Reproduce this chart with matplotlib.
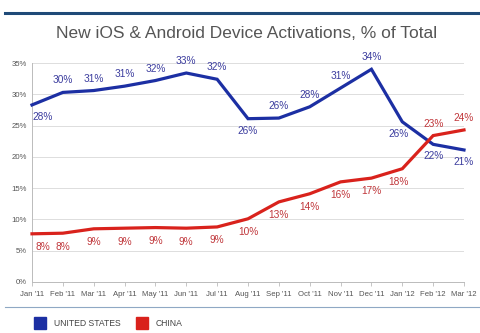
import matplotlib
matplotlib.use("Agg")
import matplotlib.pyplot as plt
from matplotlib.patches import Rectangle
from matplotlib.lines import Line2D

months = ["Jan '11", "Feb '11", "Mar '11", "Apr '11", "May '11", "Jun '11", "Jul '11",
          "Aug '11", "Sep '11", "Oct '11", "Nov '11", "Dec '11", "Jan '12", "Feb '12", "Mar '12"]
us = [28.3, 30.3, 30.6, 31.3, 32.2, 33.4, 32.4, 26.1, 26.2, 28.0, 31.0, 34.0, 25.6, 22.0, 21.1]
china = [7.7, 7.8, 8.5, 8.6, 8.7, 8.6, 8.8, 10.1, 12.8, 14.1, 16.0, 16.6, 18.1, 23.4, 24.3]
us_labels = ["28%", "30%", "31%", "31%", "32%", "33%", "32%", "26%", "26%", "28%",
             "31%", "34%", "26%", "22%", "21%"]
china_labels = ["8%", "8%", "9%", "9%", "9%", "9%", "9%", "10%", "13%", "14%",
                "16%", "17%", "18%", "23%", "24%"]
# label placement: +1 above the line, -1 below
us_side = [-1, 1, 1, 1, 1, 1, 1, -1, 1, 1, 1, 1, -1, -1, -1]
china_side = [-1, -1, -1, -1, -1, -1, -1, -1, -1, -1, -1, -1, -1, 1, 1]

blue = "#1c2fa3"
blue_txt = "#3b3c9e"
red = "#d9221c"
red_txt = "#c0363a"

plt.rcParams['font.family'] = ['Liberation Sans', 'DejaVu Sans']

fig = plt.figure(figsize=(4.8, 3.33), dpi=100)
ax = fig.add_axes([32 / 480, 1 - 282 / 333, 432 / 480, 219 / 333])

x = list(range(len(months)))
ax.plot(x, us, color=blue, lw=2.3, solid_joinstyle="miter", zorder=3)
ax.plot(x, china, color=red, lw=2.3, solid_joinstyle="miter", zorder=3)

for i in x:
    dx = 0
    if i == 0:
        dx = 0.25
    if i == 12:
        dx = -0.1
    if us_side[i] > 0:
        ax.annotate(us_labels[i], (i, us[i]), xytext=(dx * 30, 5), textcoords="offset points",
                    ha="center", va="bottom", fontsize=7.3, color=blue_txt)
    else:
        ax.annotate(us_labels[i], (i, us[i]), xytext=(dx * 30, -5), textcoords="offset points",
                    ha="center", va="top", fontsize=7.3, color=blue_txt)
    if china_side[i] > 0:
        ax.annotate(china_labels[i], (i, china[i]), xytext=(0, 5), textcoords="offset points",
                    ha="center", va="bottom", fontsize=7.3, color=red_txt)
    else:
        ax.annotate(china_labels[i], (i, china[i]), xytext=(dx * 30, -6), textcoords="offset points",
                    ha="center", va="top", fontsize=7.3, color=red_txt)

ax.set_xlim(0, len(months) - 1)
ax.set_ylim(0, 35)
ax.set_yticks(range(0, 36, 5))
ax.set_yticklabels([str(v) + "%" for v in range(0, 36, 5)])
ax.set_xticks(x)
ax.set_xticklabels(months)
ax.tick_params(axis="both", labelsize=5.6, colors="#555555", length=3, width=0.6)
ax.tick_params(axis="y", length=0)
ax.tick_params(axis="x", color="#bbbbbb")
ax.grid(axis="y", color="#dddddd", lw=0.7)
ax.set_axisbelow(True)
for s in ["top", "right"]:
    ax.spines[s].set_visible(False)
ax.spines["left"].set_color("#bbbbbb")
ax.spines["bottom"].set_color("#bbbbbb")
ax.spines["left"].set_linewidth(0.7)
ax.spines["bottom"].set_linewidth(0.7)
for ln in ax.lines:
    ln.set_clip_on(False)

# top rule, title, lower rule and legend
fig.add_artist(Line2D([5 / 480, 1], [1 - 13 / 333] * 2, color="#1f4a78", lw=2.2))
fig.text(247 / 480, 1 - 33 / 333, "New iOS & Android Device Activations, % of Total",
         ha="center", va="center", fontsize=12.5, color="#555555")
fig.add_artist(Line2D([5 / 480, 1], [1 - 307 / 333] * 2, color="#8fa8c4", lw=0.8))
fig.add_artist(Rectangle((34 / 480, 1 - 329 / 333), 12 / 480, 12 / 333, color=blue, transform=fig.transFigure))
fig.text(54 / 480, 1 - 323 / 333, "UNITED STATES", ha="left", va="center", fontsize=6.2, color="#444444")
fig.add_artist(Rectangle((136 / 480, 1 - 329 / 333), 12 / 480, 12 / 333, color=red, transform=fig.transFigure))
fig.text(156 / 480, 1 - 323 / 333, "CHINA", ha="left", va="center", fontsize=6.2, color="#444444")

fig.savefig("out.png", dpi=100)
